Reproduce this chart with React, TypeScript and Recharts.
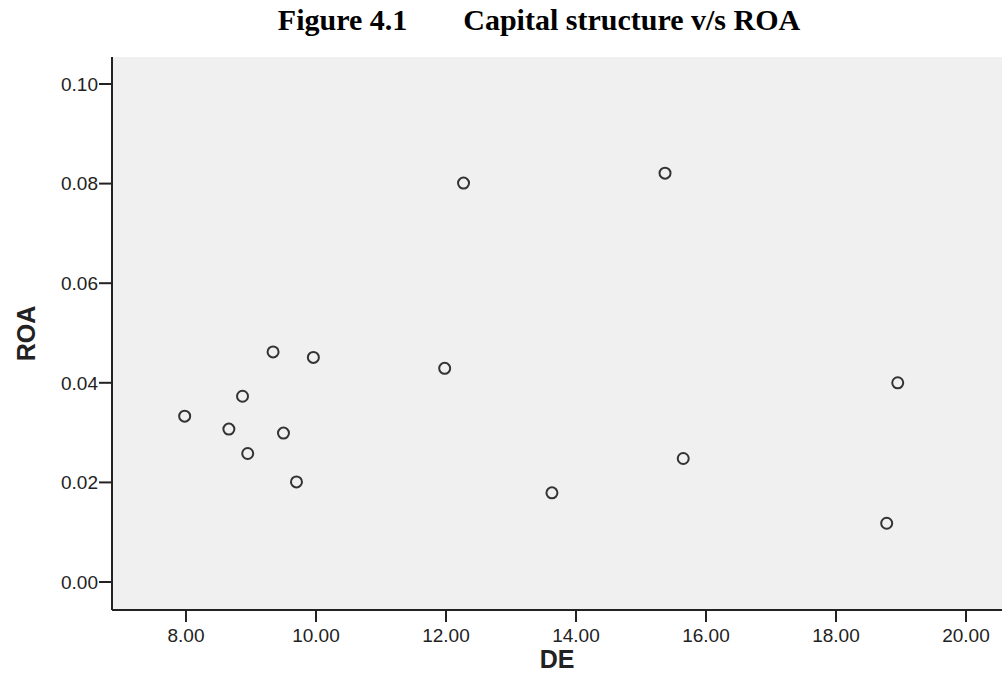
import { ScatterChart, Scatter, XAxis, YAxis, CartesianGrid } from "recharts";

// DE (debt/equity) vs ROA
const deValues = [7.98, 8.66, 8.87, 8.95, 9.34, 9.5, 9.7, 9.96, 11.98, 12.27, 13.63, 15.37, 15.65, 18.78, 18.95];
const roaValues = [0.0333, 0.0307, 0.0373, 0.0258, 0.0462, 0.0299, 0.0201, 0.0451, 0.0429, 0.0801, 0.0179, 0.0821, 0.0248, 0.0118, 0.04];
const xTicks = [8, 10, 12, 14, 16, 18, 20];
const yTicks = [0, 0.02, 0.04, 0.06, 0.08, 0.1];

const points = deValues.map((de, i) => ({ de, roa: roaValues[i] }));

const tickStyle = { fontSize: 19, fill: "#222", fontFamily: "Arial, 'Liberation Sans', sans-serif" };
const labelStyle = { fontSize: 25, fontWeight: "bold", fill: "#222", fontFamily: "Arial, 'Liberation Sans', sans-serif" };

const Ring = (props: any) => {
  const { cx, cy } = props;
  return <circle cx={cx} cy={cy} r={5.5} fill="none" stroke="#333" strokeWidth={2} />;
};

export default function App() {
  return (
    <div style={{ position: "absolute", left: 0, top: 0, width: 1004, height: 696, background: "#fff" }}>
      <div
        style={{
          position: "absolute",
          top: 3,
          left: 0,
          width: 1078,
          textAlign: "center",
          fontFamily: "'Liberation Serif', 'Times New Roman', serif",
          fontWeight: "bold",
          fontSize: 30,
          whiteSpace: "pre",
          color: "#000"
        }}
      >
        <span>Figure 4.1</span>
        <span style={{ marginLeft: 56 }}>Capital structure v/s ROA</span>
      </div>
      <ScatterChart width={1004} height={696} margin={{ top: 57, right: 2, bottom: 36, left: 52 }}>
        <CartesianGrid horizontal={false} vertical={false} fill="#f0f0f0" />
        <XAxis
          xAxisId="b"
          type="number"
          dataKey="de"
          domain={[6.862, 20.554]}
          ticks={xTicks}
          tickFormatter={(v: number) => v.toFixed(2)}
          tick={tickStyle}
          tickSize={12}
          tickMargin={7}
          tickLine={{ stroke: "#222", strokeWidth: 2 }}
          axisLine={{ stroke: "#222", strokeWidth: 2 }}
          height={50}
          allowDataOverflow
          label={{ value: "DE", position: "insideBottom", offset: -8, style: labelStyle }}
        />
        <XAxis
          xAxisId="t"
          orientation="top"
          type="number"
          domain={[6.862, 20.554]}
          tick={false}
          tickLine={false}
          axisLine={{ stroke: "#666", strokeWidth: 2 }}
          height={0}
        />
        <YAxis
          yAxisId="l"
          type="number"
          dataKey="roa"
          domain={[-0.00562, 0.10542]}
          ticks={yTicks}
          tickFormatter={(v: number) => v.toFixed(2)}
          tick={tickStyle}
          tickSize={13}
          tickMargin={1}
          tickLine={{ stroke: "#222", strokeWidth: 2 }}
          axisLine={{ stroke: "#222", strokeWidth: 2 }}
          width={60}
          allowDataOverflow
          label={{ value: "ROA", angle: -90, position: "insideLeft", offset: -26, style: { ...labelStyle, textAnchor: "middle" } }}
        />
        <YAxis
          yAxisId="r"
          orientation="right"
          type="number"
          domain={[-0.00562, 0.10542]}
          tick={false}
          tickLine={false}
          axisLine={{ stroke: "#666", strokeWidth: 2 }}
          width={0}
        />
        <Scatter data={points} xAxisId="b" yAxisId="l" shape={<Ring />} isAnimationActive={false} />
      </ScatterChart>
    </div>
  );
}
